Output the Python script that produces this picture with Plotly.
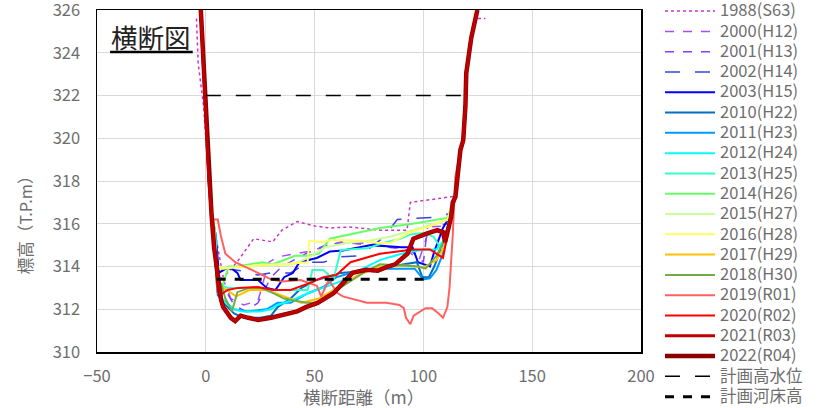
import plotly.graph_objects as go

# ---- common bank profile (left / right abutments) ----
LB_X = [-2.3, -1.1, 0.0, 1.4, 2.6]
LB_Y = [326.0, 323.5, 321.0, 318.0, 316.5]
RB_X = [114.7, 117.0, 118.3, 119.3, 119.7, 122.0, 124.8]
RB_Y = [317.25, 319.45, 319.9, 321.5, 323.05, 324.7, 326.0]

# ---- survey profiles ----
X_1988 = [-4.3, -3.5, -1.0, 1.0, 3.5, 6.0, 8.0, 11.0, 15.0, 22.0, 30.7, 35.0, 42.0, 50.0, 57.0, 66.0, 80.0, 92.5, 94.0, 112.0,
          114.7, 117.0, 118.3, 119.3, 119.7, 122.0, 124.5, 128.5]
Y_1988 = [325.6, 323.5, 321.5, 318.5, 316.0, 314.7, 313.5, 313.8, 314.3, 315.3, 315.15, 315.7, 316.1, 315.9, 315.8, 315.85, 315.7, 315.7, 317.0, 317.25,
          317.3, 319.45, 319.9, 321.5, 323.05, 324.7, 325.6, 325.6]

X_2000 = [5.0, 8.0, 11.5, 17.4, 24.0, 27.0, 29.0, 33.0, 47.0, 54.0, 62.0, 75.0, 92.0, 98.0, 103.0, 112.0]
Y_2000 = [313.6, 313.4, 312.5, 312.2, 312.4, 313.5, 314.2, 314.45, 314.7, 314.9, 315.15, 315.0, 314.8, 314.3, 315.85, 315.9]

X_2001 = [4.0, 6.0, 9.0, 13.0, 18.3, 24.0, 30.0, 35.0, 46.0, 55.0, 65.0, 75.0, 85.0, 92.0, 96.0, 100.0, 102.0, 112.0]
Y_2001 = [315.0, 313.3, 312.9, 312.2, 311.9, 312.3, 313.5, 314.0, 314.6, 315.0, 315.1, 315.1, 314.9, 314.85, 314.6, 314.2, 315.9, 316.0]

X_2002 = [4.5, 5.5, 10.0, 16.0, 24.0, 30.0, 39.0, 47.0, 54.0, 62.0, 70.0, 76.0, 82.0, 88.0, 97.0, 105.0, 113.0]
Y_2002 = [315.5, 313.8, 313.9, 313.8, 313.6, 313.7, 313.7, 314.2, 314.2, 314.45, 314.5, 314.9, 315.4, 316.2, 316.25, 316.3, 316.5]

X_2003 = [4.5, 6.0, 8.0, 10.0, 12.0, 14.5, 16.0, 24.0, 28.0, 32.0, 36.0, 40.0, 43.0, 47.0, 51.0, 57.0, 63.0, 76.0, 90.0, 95.0, 97.5, 103.0, 105.0, 109.0, 113.0]
Y_2003 = [315.5, 313.7, 313.84, 313.95, 313.9, 313.7, 313.37, 313.37, 313.0, 312.9, 313.5, 313.7, 314.2, 314.3, 314.4, 314.7, 314.75, 315.0, 314.9, 314.9, 314.2, 314.0, 314.7, 315.8, 316.5]

X_2010 = [4.5, 5.5, 8.0, 13.0, 17.4, 25.0, 30.0, 33.0, 39.0, 44.0, 51.0, 62.0, 74.0, 83.0, 90.0, 97.0, 99.5, 102.5, 105.0, 109.0, 113.0]
Y_2010 = [314.5, 312.67, 312.3, 311.8, 311.6, 311.6, 311.7, 312.1, 312.5, 313.0, 313.37, 313.7, 313.8, 313.97, 314.07, 314.2, 313.5, 313.5, 314.0, 315.1, 316.5]

X_2011 = [4.5, 5.5, 7.0, 13.0, 19.0, 28.0, 33.0, 39.0, 47.0, 54.0, 60.0, 70.0, 80.0, 96.0, 100.0, 103.0, 106.0, 109.0, 113.0]
Y_2011 = [314.5, 313.2, 312.5, 312.0, 311.9, 312.0, 312.3, 312.3, 312.75, 313.04, 313.5, 313.8, 313.9, 313.9, 313.4, 313.45, 313.84, 314.6, 316.5]

X_2012 = [4.5, 5.5, 9.0, 13.0, 17.0, 25.0, 30.0, 33.0, 39.0, 47.0, 54.0, 62.0, 70.0, 80.0, 90.0, 100.0, 106.0, 110.0, 113.0]
Y_2012 = [315.5, 312.8, 312.3, 312.0, 311.9, 311.9, 312.0, 312.2, 312.4, 312.75, 313.0, 313.3, 313.8, 314.3, 314.6, 314.8, 314.8, 315.3, 316.5]

X_2013 = [4.0, 5.0, 6.0, 10.0, 24.0, 30.0, 40.0, 46.8, 49.0, 54.0, 58.7, 62.0, 74.0, 81.7, 89.4, 94.0, 100.0, 104.6, 107.8, 109.5, 113.0]
Y_2013 = [315.8, 314.0, 313.2, 313.0, 313.0, 312.9, 312.9, 312.9, 313.84, 313.84, 313.4, 314.77, 314.85, 315.1, 315.3, 315.5, 315.57, 315.4, 314.9, 314.8, 316.5]

X_2014 = [3.5, 5.0, 7.0, 9.6, 10.5, 14.5, 19.0, 26.0, 30.7, 38.0, 41.0, 46.0, 52.0, 57.0, 66.0, 80.0, 95.0, 111.0]
Y_2014 = [316.0, 313.5, 312.9, 313.7, 314.0, 314.0, 314.07, 314.2, 314.1, 314.4, 314.5, 314.5, 314.6, 315.3, 315.5, 315.8, 316.0, 316.27]

X_2015 = [3.5, 5.0, 10.0, 20.0, 30.0, 40.0, 47.0, 55.0, 65.0, 75.0, 85.0, 95.0, 105.0, 112.0]
Y_2015 = [316.0, 314.0, 313.95, 314.0, 314.05, 314.1, 314.4, 314.9, 315.1, 315.2, 315.4, 315.7, 316.0, 316.2]

X_2016 = [3.7, 5.0, 8.0, 24.0, 35.0, 46.8, 47.5, 53.0, 58.0, 72.0, 79.0, 85.0, 94.0, 102.0, 111.0]
Y_2016 = [315.5, 313.9, 313.9, 314.07, 314.1, 314.2, 315.2, 315.15, 315.24, 315.2, 315.1, 315.1, 315.6, 315.85, 316.2]

X_2017 = [4.0, 5.0, 8.0, 14.0, 20.0, 28.0, 36.0, 44.0, 52.0, 60.0, 70.0, 80.0, 92.0, 100.0, 106.0, 110.0]
Y_2017 = [315.8, 313.2, 313.0, 312.6, 312.9, 312.9, 312.6, 312.3, 312.5, 313.0, 313.6, 314.0, 314.05, 313.95, 314.3, 315.0]

X_2018 = [3.5, 5.0, 7.0, 9.0, 12.0, 14.5, 20.0, 25.0, 30.0, 36.0, 41.0, 46.0, 51.0, 58.0, 66.0, 74.0, 80.0, 88.0, 98.0, 101.0, 106.0, 109.0, 113.0]
Y_2018 = [316.0, 313.2, 313.2, 312.5, 311.9, 312.8, 313.0, 313.0, 312.8, 312.5, 312.4, 312.3, 312.3, 312.76, 313.3, 313.8, 314.1, 314.07, 314.0, 313.9, 314.5, 315.1, 316.5]

X_2019 = [3.5, 5.5, 7.0, 9.0, 13.5, 24.0, 30.0, 35.0, 43.6, 51.0, 53.0, 56.5, 60.5, 63.0, 74.0, 83.0, 89.0, 91.0, 92.0, 94.0, 95.5,
          101.0, 104.0, 107.0, 109.0, 111.0, 112.0, 113.5, 114.7, 117.0, 118.3, 119.3, 119.7, 122.0, 124.8]
Y_2019 = [316.2, 316.2, 315.4, 314.6, 314.2, 313.7, 313.4, 313.3, 313.37, 313.1, 312.6, 313.37, 312.76, 312.6, 312.3, 312.3, 312.2, 312.05, 311.6, 311.3, 311.7,
          312.05, 312.05, 311.8, 311.6, 312.1, 313.0, 315.5, 318.2, 319.45, 319.9, 321.5, 323.05, 324.7, 326.0]

X_2020 = [4.0, 5.5, 7.0, 10.0, 15.0, 24.0, 31.0, 39.0, 47.0, 54.0, 60.0, 66.5, 80.0, 95.4, 103.0, 109.0, 111.5, 113.0]
Y_2020 = [314.5, 312.8, 312.7, 312.9, 313.0, 313.04, 312.9, 312.9, 313.2, 313.5, 313.6, 314.2, 314.6, 314.8, 314.8, 314.4, 315.7, 316.8]

X_2021 = [3.8, 5.5, 7.0, 8.0, 11.5, 13.5, 16.0, 19.5, 24.0, 30.0, 37.6, 42.0, 46.0, 51.4, 58.7, 63.0, 67.4, 73.8, 79.0, 83.0, 87.0, 92.7, 95.4, 101.8, 106.4, 109.0, 110.0, 112.7, 113.5]
Y_2021 = [314.9, 313.5, 312.4, 312.1, 311.6, 311.45, 311.7, 311.6, 311.5, 311.6, 311.8, 311.9, 312.1, 312.3, 312.75, 313.2, 313.7, 313.85, 313.8, 313.97, 314.1, 314.6, 315.3, 315.55, 315.7, 315.6, 315.15, 316.3, 317.0]

X_2022 = [3.8, 5.5, 7.0, 8.0, 11.5, 13.5, 16.0, 19.5, 24.0, 30.0, 37.6, 42.0, 46.0, 51.4, 58.7, 63.0, 67.4, 73.8, 79.0, 83.0, 87.0, 92.7, 95.4, 101.8, 106.4, 109.0, 110.0, 112.7, 113.5]
Y_2022 = [314.9, 313.5, 312.45, 312.1, 311.6, 311.45, 311.7, 311.6, 311.5, 311.6, 311.8, 311.9, 312.1, 312.3, 312.75, 313.2, 313.7, 313.85, 313.8, 313.97, 314.1, 314.6, 315.3, 315.55, 315.7, 315.6, 315.15, 316.3, 317.0]

# ---- planning lines ----
HWL_X = [0.0, 120.0]
HWL_Y = [322.0, 322.0]
PBED_X = [5.0, 104.0]
PBED_Y = [313.4, 313.4]

LEG = '<span style="font-size:16.5px">{}</span>'
GRAY = "#6E6E6E"

# name, bed x, bed y, color, width, dash, profile kind
SERIES = [
    ("1988(S63)", X_1988, Y_1988, "#CC33CC", 1.5, "dot", "full"),
    ("2000(H12)", X_2000, Y_2000, "#A64DFF", 1.5, "dash", "bed"),
    ("2001(H13)", X_2001, Y_2001, "#7F3FFF", 1.5, "dash", "bed"),
    ("2002(H14)", X_2002, Y_2002, "#4040DD", 1.5, "longdash", "bed"),
    ("2003(H15)", X_2003, Y_2003, "#0000FF", 2.0, "solid", "bed"),
    ("2010(H22)", X_2010, Y_2010, "#0070C0", 2.0, "solid", "bed"),
    ("2011(H23)", X_2011, Y_2011, "#0099FF", 2.0, "solid", "bed"),
    ("2012(H24)", X_2012, Y_2012, "#00FFFF", 2.0, "solid", "bed"),
    ("2013(H25)", X_2013, Y_2013, "#33FFCC", 2.0, "solid", "bed"),
    ("2014(H26)", X_2014, Y_2014, "#66FF66", 2.0, "solid", "bed"),
    ("2015(H27)", X_2015, Y_2015, "#CCFF99", 2.0, "solid", "bed"),
    ("2016(H28)", X_2016, Y_2016, "#FFFF66", 2.0, "solid", "bed"),
    ("2017(H29)", X_2017, Y_2017, "#FFC000", 2.0, "solid", "bed"),
    ("2018(H30)", X_2018, Y_2018, "#70AD47", 2.0, "solid", "bed"),
    ("2019(R01)", X_2019, Y_2019, "#FF6161", 2.0, "solid", "left"),
    ("2020(R02)", X_2020, Y_2020, "#FF0000", 2.0, "solid", "bed"),
    ("2021(R03)", X_2021, Y_2021, "#C00000", 3.0, "solid", "bed"),
    ("2022(R04)", X_2022, Y_2022, "#8B0000", 4.5, "solid", "bed"),
]

fig = go.Figure()
traces = []
for rank, (name, bx, by, color, width, dash, kind) in enumerate(SERIES):
    if kind == "full":
        xs, ys = bx, by
    elif kind == "left":
        xs, ys = LB_X + bx, LB_Y + by
    else:
        xs, ys = LB_X + bx + RB_X, LB_Y + by + RB_Y
    traces.append(go.Scatter(x=xs, y=ys, mode="lines", name=LEG.format(name),
                             line=dict(color=color, width=width, dash=dash),
                             legendrank=rank + 1, hoverinfo="skip"))
# draw 2022 beneath 2021 so the overlap shows a dark rim
order = list(range(len(traces)))
order[-2], order[-1] = order[-1], order[-2]
for i in order:
    fig.add_trace(traces[i])

fig.add_trace(go.Scatter(x=HWL_X, y=HWL_Y, mode="lines", name=LEG.format("計画高水位"),
                         line=dict(color="black", width=1.5, dash="longdash"), legendrank=19, hoverinfo="skip"))
fig.add_trace(go.Scatter(x=PBED_X, y=PBED_Y, mode="lines", name=LEG.format("計画河床高"),
                         line=dict(color="black", width=3, dash="dash"), legendrank=20, hoverinfo="skip"))

fig.update_layout(
    width=821, height=408,
    margin=dict(l=97, r=180, t=10, b=56, pad=0, autoexpand=False),
    paper_bgcolor="white", plot_bgcolor="white",
    font=dict(family="Noto Sans CJK JP", color=GRAY),
    showlegend=True, hovermode=False,
    legend=dict(xref="container", yref="paper", x=0.8039, xanchor="left", y=1.041, yanchor="top",
                font=dict(size=13.3, color=GRAY), itemwidth=50, maxheight=700,
                bgcolor="rgba(0,0,0,0)", borderwidth=0, tracegroupgap=0),
)
fig.update_xaxes(range=[-50, 200], tick0=0, dtick=50, showgrid=True, gridcolor="#D9D9D9", gridwidth=1,
                 showline=True, linecolor="black", linewidth=1.5, mirror=True, zeroline=False, ticks="",
                 automargin=False, ticklabeloverflow="allow", ticklabelstandoff=9,
                 tickfont=dict(size=16.5, color=GRAY))
fig.update_yaxes(range=[310, 326], tick0=310, dtick=2, showgrid=True, gridcolor="#D9D9D9", gridwidth=1,
                 showline=True, linecolor="black", linewidth=1.5, mirror=True, zeroline=False, ticks="",
                 automargin=False, ticklabeloverflow="allow", ticklabelstandoff=12,
                 tickfont=dict(size=16.5, color=GRAY))

fig.add_annotation(text="横断距離（m）", xref="paper", yref="paper", x=0.49, y=-0.1287,
                   xanchor="center", yanchor="middle", showarrow=False, font=dict(size=17.5, color=GRAY))
fig.add_annotation(text="標高（T.P.m）", xref="paper", yref="paper", x=-0.132, y=0.383,
                   xanchor="center", yanchor="middle",
                   textangle=-90, showarrow=False, font=dict(size=16.5, color=GRAY))
fig.add_annotation(text="横断図", xref="paper", yref="paper", x=0.0223, y=0.985, xanchor="left", yanchor="top",
                   showarrow=False, font=dict(size=26.5, color="#222222", family="Noto Sans CJK JP"))
fig.add_shape(type="line", xref="paper", yref="paper", x0=0.024, x1=0.176, y0=0.877, y1=0.877,
              line=dict(color="black", width=2.5))

# remove the browser's default 8px page margin so the figure sits at the window origin
fig.write_html("out.html", config={"displayModeBar": False, "staticPlot": True},
               post_script="document.body.style.margin='0px';")
